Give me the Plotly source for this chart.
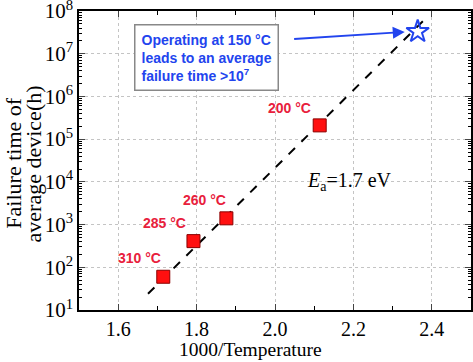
import plotly.graph_objects as go

# Data
temps_c = [310, 285, 260, 200]
inv_temp = [1.715, 1.792, 1.876, 2.114]
fail_time = [60, 410, 1400, 2.1e5]
star_x = [2.364]
star_y = [3.3e7]
fit_x = [1.676, 2.383]
fit_y = [24, 6.5e7]
ytick_vals = [10**k for k in range(1, 9)]
ytick_text = [f"10<sup>{k}</sup>" for k in range(1, 9)]
yminor_vals = [m * 10**k for k in range(1, 8) for m in range(2, 10)]
label_x = [1.655, 1.717, 1.821, 2.038]
label_logy = [2.22, 3.04, 3.575, 5.73]

serif = "Liberation Serif, Times New Roman, serif"
sans = "Liberation Sans, Arial, sans-serif"
red_txt = "#e8203c"
blue = "#2244ee"

fig = go.Figure()
fig.add_trace(go.Scatter(x=fit_x, y=fit_y, mode="lines",
                         line=dict(color="black", width=2, dash="dash"),
                         showlegend=False, hoverinfo="skip"))
fig.add_trace(go.Scatter(x=inv_temp, y=fail_time, mode="markers",
                         marker=dict(symbol="square", size=13, color="#ff1010",
                                     line=dict(color="#8a0000", width=1)),
                         showlegend=False))
fig.add_trace(go.Scatter(x=star_x, y=star_y, mode="markers",
                         marker=dict(symbol="star-open", size=17, color=blue,
                                     line=dict(color=blue, width=2)),
                         showlegend=False))
# invisible trace to activate minor-tick overlay axis
fig.add_trace(go.Scatter(x=[None], y=[None], yaxis="y2", showlegend=False, hoverinfo="skip"))

for t, x, ly in zip(temps_c, label_x, label_logy):
    fig.add_annotation(x=x, y=ly, text=f"{t} °C", showarrow=False,
                       font=dict(family=sans, size=14, color=red_txt, weight="bold"),
                       xanchor="center", yanchor="middle")

fig.add_annotation(x=2.076, y=4.0, text="<i>E</i><sub>a</sub>=1.7 eV", showarrow=False,
                   font=dict(family=serif, size=20, color="black"),
                   xanchor="left", yanchor="middle")

fig.add_annotation(xref="paper", yref="paper", x=0.14, y=0.957,
                   text="Operating at 150 °C<br>leads to an average<br>failure time >10<sup>7</sup>",
                   showarrow=False, align="left", xanchor="left", yanchor="top",
                   font=dict(family=sans, size=14, color=blue, weight="bold"),
                   bordercolor="#888888", borderwidth=1.5, borderpad=6, bgcolor="white")

fig.add_annotation(x=2.331, y=7.51, ax=2.045, ay=7.345, axref="x", ayref="y",
                   xref="x", yref="y", text="", showarrow=True,
                   arrowhead=2, arrowsize=1.2, arrowwidth=2, arrowcolor=blue)

# axis titles
fig.add_annotation(xref="paper", yref="paper", x=-0.168, y=0.49,
                   text="Failure time of", textangle=-90,
                   showarrow=False, xanchor="center", yanchor="middle",
                   font=dict(family=serif, size=22, color="black"))
fig.add_annotation(xref="paper", yref="paper", x=-0.115, y=0.49,
                   text="average device(h)", textangle=-90,
                   showarrow=False, xanchor="center", yanchor="middle",
                   font=dict(family=serif, size=22, color="black"))
fig.add_annotation(xref="paper", yref="paper", x=0.438, y=-0.133,
                   text="1000/Temperature", showarrow=False,
                   xanchor="center", yanchor="middle",
                   font=dict(family=serif, size=19.5, color="black"))

fig.update_layout(
    width=473, height=362,
    margin=dict(l=79, r=2, t=11, b=52),
    paper_bgcolor="white", plot_bgcolor="white",
    xaxis=dict(range=[1.5, 2.5], tick0=1.6, dtick=0.2, ticks="inside", ticklen=6,
               mirror="ticks", showline=True, linecolor="black", linewidth=1.5,
               showgrid=True, gridcolor="#c4c4c4", griddash="dot", zeroline=False,
               automargin=False,
               minor=dict(tick0=1.5, dtick=0.1, ticks="inside", ticklen=4, showgrid=False,
                          tickcolor="black"),
               tickfont=dict(family=serif, size=20, color="black"),
               tickformat=".1f"),
    yaxis=dict(type="log", range=[0.9999, 8.0001], tickvals=ytick_vals, ticktext=ytick_text,
               ticks="inside", ticklen=6, mirror="ticks", showline=True, linecolor="black",
               linewidth=1.5, showgrid=True, gridcolor="#c4c4c4", griddash="dot",
               zeroline=False, automargin=False, ticklabeloverflow="allow",
               tickfont=dict(family=serif, size=21, color="black")),
    yaxis2=dict(type="log", range=[0.9999, 8.0001], overlaying="y", side="left",
                tickvals=yminor_vals, ticks="inside", ticklen=3, tickwidth=1,
                tickcolor="black", mirror="ticks", showline=False, showgrid=False,
                showticklabels=False, zeroline=False, automargin=False),
)

fig.write_html("out.html", config={"displayModeBar": False},
               post_script="document.body.style.margin='0';document.body.style.overflow='hidden';")
